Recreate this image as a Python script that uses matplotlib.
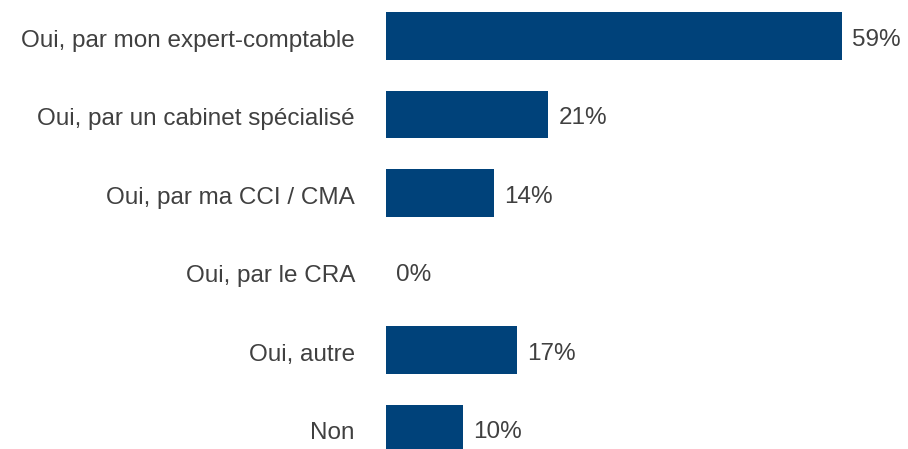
import numpy as np
import matplotlib.pyplot as plt

## DATA ##
categories = ['Oui, par mon expert-comptable', 'Oui, par un cabinet spécialisé',
              'Oui, par ma CCI / CMA', 'Oui, par le CRA', 'Oui, autre', 'Non']
values = [59, 21, 14, 0, 17, 10]

bar_color = '#00427a'
text_color = '#404040'

plt.rcParams['font.family'] = ['Liberation Sans', 'DejaVu Sans']

fig = plt.figure(figsize=(9.08, 4.49), dpi=100)
ax = fig.add_axes([386 / 908, 0, 522 / 908, 1])

ind = np.arange(len(categories))
ax.barh(ind, values, height=0.6, color=bar_color)
for i, v, cat in zip(ind, values, categories):
    ax.annotate('{}%'.format(v), (v, i), xytext=(10, -4), textcoords='offset pixels',
                va='center', ha='left', fontsize=17.5, color=text_color)
    # category labels, right aligned left of the axis
    ax.annotate(cat, (0, i), xytext=(-31, -5), textcoords='offset pixels',
                va='center', ha='right', fontsize=17.5, color=text_color,
                annotation_clip=False)

ax.set_ylim(449 / 78.5 - 36 / 78.5, -36 / 78.5)
ax.set_xlim(0, 522 / 7.73)
ax.set_yticks([])
ax.set_xticks([])
for s in ax.spines.values():
    s.set_visible(False)

fig.savefig('out.png', dpi=100)
